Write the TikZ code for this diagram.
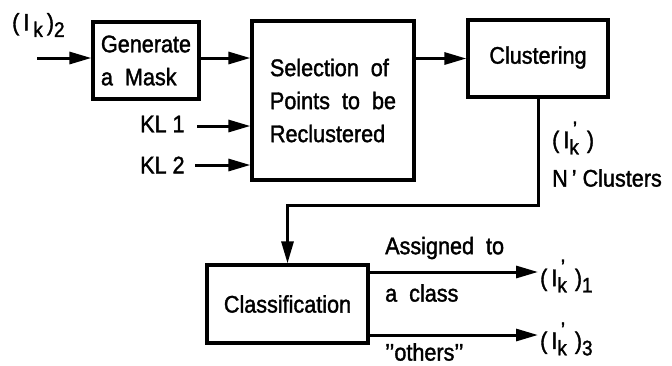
\documentclass[tikz,border=0pt]{standalone}
\usepackage{fontspec}
\setmainfont[FakeStretch=0.9,FakeBold=1.5]{Liberation Sans}
\usetikzlibrary{arrows.meta}
\newcommand\subtxt[1]{\raisebox{-0.5ex}{\fontsize{21}{21}\selectfont #1}}
\newcommand\primek{\rlap{\raisebox{0.95ex}{\fontsize{21}{21}\selectfont\,’}}\subtxt{k}}
\begin{document}
\begin{tikzpicture}[x=1pt,y=-1pt,
  every node/.style={font=\fontsize{24}{33}\selectfont, inner sep=0pt},
  box/.style={draw, line width=3.2pt, align=left},
  conn/.style={line width=3pt, -{Triangle[length=22pt,width=12pt]}},
  lbl/.style={anchor=west}]
\useasboundingbox (0,0) rectangle (672,365);
% boxes
\node[box, minimum width=106pt, minimum height=77pt] (gen) at (146,60.5) {Generate\\a\ \ Mask};
\node[box, minimum width=162pt, minimum height=159pt] (sel) at (333,100.5) {Selection\ \ of\\Points\ \ to\ \ be\\Reclustered};
\node[box, minimum width=140pt, minimum height=77pt] (clu) at (538,58.5) {\raisebox{7pt}{Clustering}};
\node[box, minimum width=161pt, minimum height=78pt] (cla) at (287.5,304) {Classification};
% labels
\node[lbl] (ik2) at (12,25) {(\,I\,\subtxt{k}\,)\subtxt{2}};
\node[lbl] (kl1) at (140,124) {KL 1};
\node[lbl] (kl2) at (140,165) {KL 2};
\node[lbl] (ikp) at (552,138) {(\,I\primek\,\,)};
\node[lbl] (nc) at (552,178) {N\,’ Clusters};
\node[lbl] (asg) at (385,248) {Assigned\ \ to};
\node[lbl] (acl) at (385,293) {a\ \ class};
\node[lbl] (oth) at (385,352) {’’others’’};
% free ends
\coordinate (in0) at (37,58);
\coordinate (k1) at (197,126);
\coordinate (k2) at (195,165);
\coordinate (bend) at (287.5,205);
\coordinate (o1) at (538,272);
\coordinate (o3) at (538,335);
\node[lbl] (ik1) at (540,276) {(\,I\primek\,\,)\subtxt{1}};
\node[lbl] (ik3) at (540,339) {(\,I\primek\,\,)\subtxt{3}};
% connectors
\draw[conn] (in0) -- (in0 -| gen.west);
\draw[conn] (gen.east |- in0) -- (in0 -| sel.west);
\draw[conn] (k1) -- (k1 -| sel.west);
\draw[conn] (k2) -- (k2 -| sel.west);
\draw[conn] (sel.east |- clu.west) -- (clu.west);
\draw[conn] (clu.south) |- (bend) -- (cla.north);
\draw[conn] (cla.east |- o1) -- (o1);
\draw[conn] (cla.east |- o3) -- (o3);
\end{tikzpicture}
\end{document}
